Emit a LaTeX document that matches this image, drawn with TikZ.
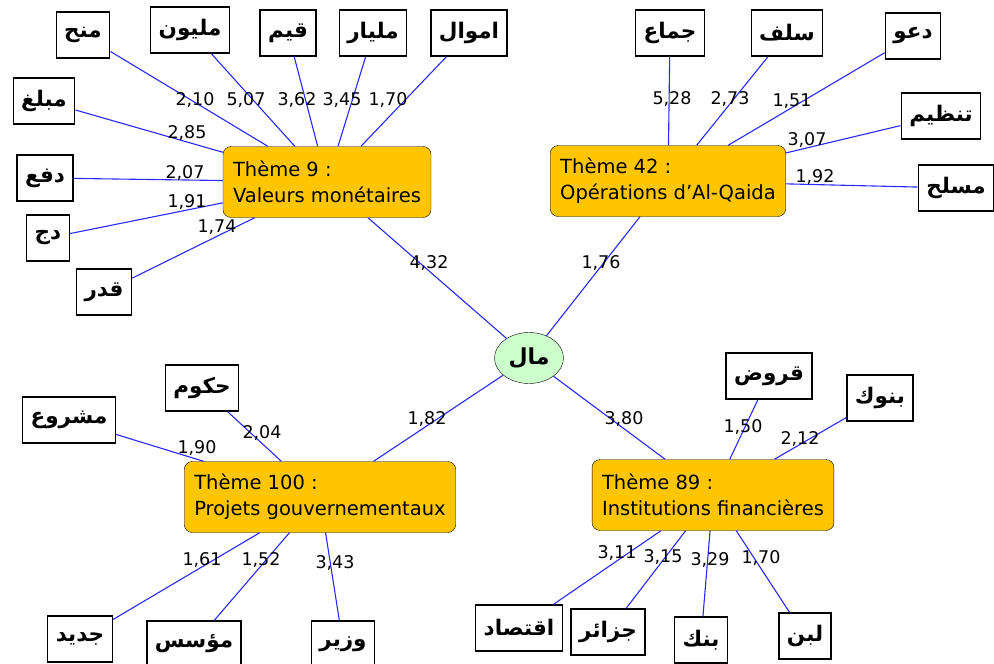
\documentclass[tikz,border=0pt]{standalone}
\usepackage{fontspec}
\setmainfont{DejaVu Sans}
\newfontfamily\arabicfont[Script=Arabic]{DejaVu Sans}
\TeXXeTstate=1
\usetikzlibrary{shapes.geometric}
\definecolor{themeorange}{RGB}{255,198,0}
\definecolor{rootgreen}{RGB}{204,255,204}
\definecolor{edgeblue}{RGB}{40,40,255}
\newcommand{\arw}[1]{{\arabicfont\bfseries\beginR #1\endR}}

\begin{document}
\begin{tikzpicture}[x=1pt, y=-1pt,
		theme/.style={draw=black, fill=themeorange, rounded corners=8pt, align=left, minimum height=71pt, inner xsep=10pt, font=\fontsize{19.5}{26}\selectfont},
		word/.style={draw=black, line width=1.4pt, fill=white, minimum height=46pt, inner xsep=8pt, font=\fontsize{21.5}{24}\selectfont},
		root/.style={ellipse, draw=black, fill=rootgreen, minimum width=69pt, minimum height=51pt, inner sep=0pt, font=\fontsize{22}{24}\selectfont},
		wt/.style={inner sep=1pt, font=\fontsize{17.5}{19}\selectfont},
		link/.style={edgeblue, line width=1.1pt}]
		%Bildbereich
		\clip (0,0) rectangle (994,664);
		% Mitte und Themen
		\node[root] (mal) at (529,358) {\arw{مال}};
		\node[theme] (th9) at (327,182) {Thème 9 :\\Valeurs monétaires};
		\node[theme] (th42) at (668,181) {Thème 42 :\\Opérations d’Al-Qaida};
		\node[theme] (th100) at (320,497) {Thème 100 :\\Projets gouvernementaux};
		\node[theme] (th89) at (713,495) {Thème 89 :\\Institutions financières};
		% Kanten zur Mitte
		\draw[link] (th9) -- (mal);
		\draw[link] (th42) -- (mal);
		\draw[link] (th100) -- (mal);
		\draw[link] (th89) -- (mal);
		\node[wt] (w9) at (429,263) {4,32};
		\node[wt] (w42) at (601,263) {1,76};
		\node[wt] (w100) at (427,419) {1,82};
		\node[wt] (w89) at (624,419) {3,80};
		% Woerter von Thema 9
		\foreach \n/\x/\y/\t/\w/\lx/\ly in {a1/83/35/منح/2{,}10/195/100, a2/190/30/مليون/5{,}07/246/100,
				a3/288/33/قيم/3{,}62/297/100, a4/373/33/مليار/3{,}45/342/100, a5/469/33/اموال/1{,}70/388/100,
				a6/44/101/مبلغ/2{,}85/187/133, a7/45/178/دفع/2{,}07/185/173, a8/48/238/دج/1{,}91/187/202,
				a9/104/292/قدر/1{,}74/217/227}
			{\node[word] (\n) at (\x,\y) {\arw{\t}};
			\draw[link] (\n) -- (th9);
			\node[wt] (w\n) at (\lx,\ly) {\w};}
		% Woerter von Thema 42
		\foreach \n/\x/\y/\t/\w/\lx/\ly in {b1/670/33/جماع/5{,}28/672/99, b2/787/33/سلف/2{,}73/730/99,
				b3/913/36/دعو/1{,}51/792/101, b4/941/116/تنظيم/3{,}07/807/140, b5/956/188/مسلح/1{,}92/815/177}
			{\node[word] (\n) at (\x,\y) {\arw{\t}};
			\draw[link] (\n) -- (th42);
			\node[wt] (w\n) at (\lx,\ly) {\w};}
		% Woerter von Thema 100
		\foreach \n/\x/\y/\t/\w/\lx/\ly in {c1/202/388/حكوم/2{,}04/262/433, c2/69/420/مشروع/1{,}90/197/448,
				c3/80/639/جديد/1{,}61/202/560, c4/194/644/مؤسس/1{,}52/261/560, c5/343/644/وزير/3{,}43/335/563}
			{\node[word] (\n) at (\x,\y) {\arw{\t}};
			\draw[link] (\n) -- (th100);
			\node[wt] (w\n) at (\lx,\ly) {\w};}
		% Woerter von Thema 89
		\foreach \n/\x/\y/\t/\w/\lx/\ly in {d1/769/376/قروض/1{,}50/743/427, d2/880/398/بنوك/2{,}12/800/439,
				d3/519/628/اقتصاد/3{,}11/617/553, d4/608/632/جزائر/3{,}15/663/557, d5/701/640/بنك/3{,}29/710/560,
				d6/805/636/لبن/1{,}70/761/558}
			{\node[word] (\n) at (\x,\y) {\arw{\t}};
			\draw[link] (\n) -- (th89);
			\node[wt] (w\n) at (\lx,\ly) {\w};}
	\end{tikzpicture}
\end{document}
